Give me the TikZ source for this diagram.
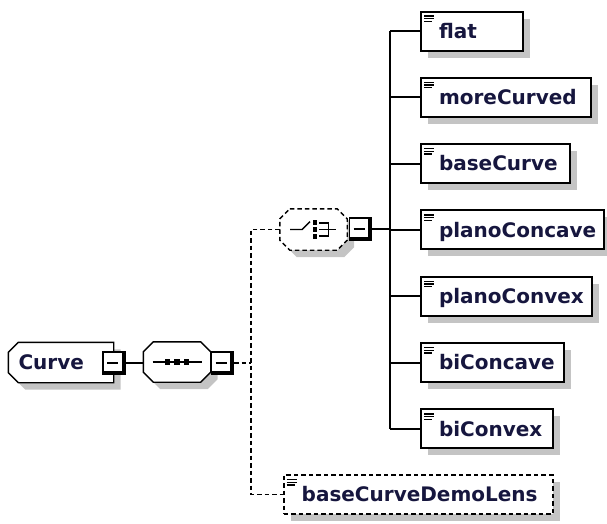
\documentclass[tikz,border=0pt]{standalone}
\usepackage{fontspec}
\setmainfont{DejaVu Sans}
\usetikzlibrary{shadows,backgrounds}
\definecolor{namecol}{RGB}{22,22,62}
\definecolor{shade}{RGB}{196,196,196}

% outlines of the content model boxes
\newcommand\octpath[1]{([xshift=10pt]#1.north west) -- ([xshift=-10pt]#1.north east) -- ([yshift=-10pt]#1.north east)
  -- ([yshift=10pt]#1.south east) -- ([xshift=-10pt]#1.south east) -- ([xshift=10pt]#1.south west)
  -- ([yshift=10pt]#1.south west) -- ([yshift=-10pt]#1.north west) -- cycle}
\newcommand\leftcutpath[1]{([xshift=10pt]#1.north west) -- (#1.north east) -- (#1.south east)
  -- ([xshift=10pt]#1.south west) -- ([yshift=10pt]#1.south west) -- ([yshift=-10pt]#1.north west) -- cycle}

\begin{document}
\begin{tikzpicture}[x=1pt, y=-1pt,
    boxshadow/.style={drop shadow={shadow xshift=7pt, shadow yshift=-7pt, fill=shade, opacity=1}},
    lbl/.style={font=\bfseries\fontsize{20}{24}\selectfont, text=namecol, text height=14.6pt, text depth=0pt},
    elem/.style={draw, line width=2pt, fill=white, minimum height=39pt, inner sep=0pt, anchor=west, lbl, boxshadow,
      path picture={\foreach \dy/\len in {4.5/10,7.2/10,9.9/8}
        \draw[line width=1.2pt, solid] ([shift={(3pt,-\dy pt)}]path picture bounding box.north west) -- ++(\len,0);}},
    optelem/.style={elem, dash pattern=on 4.5pt off 3pt},
    model/.style={minimum width=67pt, minimum height=40pt, inner sep=0pt},
    modelline/.style={fill=white, draw, line width=1.4pt},
    modelshadow/.style={fill=shade, transform canvas={shift={(7pt,-7pt)}}},
    collapse/.style={draw, line width=1.2pt, fill=white, minimum size=22pt, inner sep=0pt,
      path picture={
        \draw[line width=3.5pt, solid] ([xshift=-1.75pt]path picture bounding box.north east) |- ([yshift=1.75pt]path picture bounding box.south west);
        \draw[line width=1.2pt, solid] ([xshift=4pt]path picture bounding box.west) -- ([xshift=-7pt]path picture bounding box.east);}},
    conn/.style={line width=1.7pt},
    optconn/.style={line width=1.6pt, dash pattern=on 4.5pt off 3pt},
    icon/.style={line width=1.4pt}
  ]
  \useasboundingbox (0,0) rectangle (607,523);

  % root element and its content model
  \node[model, minimum width=105pt, anchor=west, lbl] (Curve) at (8.3,362.5) {\makebox[105pt][l]{\hspace{10pt}Curve}};
  \node[model] (seq) at (177,362) {};
  \node[model, minimum height=41pt] (choice) at (313.5,229.5) {};
  \begin{scope}[on background layer]
    \fill[modelshadow] \leftcutpath{Curve};
    \fill[modelshadow] \octpath{seq};
    \fill[modelshadow] \octpath{choice};
    \filldraw[modelline] \leftcutpath{Curve};
    \filldraw[modelline] \octpath{seq};
    \filldraw[modelline, dash pattern=on 4.5pt off 3pt] \octpath{choice};
  \end{scope}
  \node[collapse] (cbCurve) at (114,363) {};
  \node[collapse] (cbSeq) at (222.5,363) {};
  \node[collapse] (cbChoice) at (360.5,229) {};

  % sequence icon
  \draw[icon] ([xshift=-24.5pt]seq.center) -- ([xshift=24.5pt]seq.center);
  \foreach \dx in {-9.5,0,9.5}
    \fill ([xshift=\dx pt]seq.center) ++(-2.75,-2.75) rectangle ++(5.5,5.5);

  % choice icon
  \begin{scope}[shift={(choice.center)}]
    \draw[icon] (-23.5,0) -- (-11.5,0) -- (-3.5,-8);
    \foreach \dy in {-7,0,7}
      \fill (-0.8,\dy-2.8) rectangle (3.2,\dy+2.8);
    \draw[icon] (5.5,-6.5) -- (15,-6.5) -- (15,6.5) -- (5.5,6.5) (5.5,0) -- (22.5,0);
  \end{scope}

  % children of the choice
  \foreach \n/\w [count=\k from 0] in {flat/102, moreCurved/170, baseCurve/149, planoConcave/183,
      planoConvex/171, biConcave/143, biConvex/132}
    \node[elem] (\n) at (420,{31+66.33*\k}) {\makebox[\w pt][l]{\hspace{18pt}\n}};
  \node[optelem] (baseCurveDemoLens) at (282.7,494.5) {\makebox[269pt][l]{\hspace{18pt}baseCurveDemoLens}};

  % connectors
  \coordinate (trunk) at (390,229);
  \coordinate (bus) at (251,363);
  \draw[conn] (cbCurve.east) -- (cbCurve.east -| seq.west);
  \draw[optconn] (cbSeq.east) -- (bus);
  \draw[optconn] (choice.west) -| (bus) |- (baseCurveDemoLens.west);
  \draw[conn] (cbChoice.east) -- (cbChoice.east -| trunk);
  \draw[conn] (flat.west -| trunk) -- (biConvex.west -| trunk);
  \foreach \n in {flat, moreCurved, baseCurve, planoConcave, planoConvex, biConcave, biConvex}
    \draw[conn] (\n.west -| trunk) -- (\n.west);
\end{tikzpicture}
\end{document}
